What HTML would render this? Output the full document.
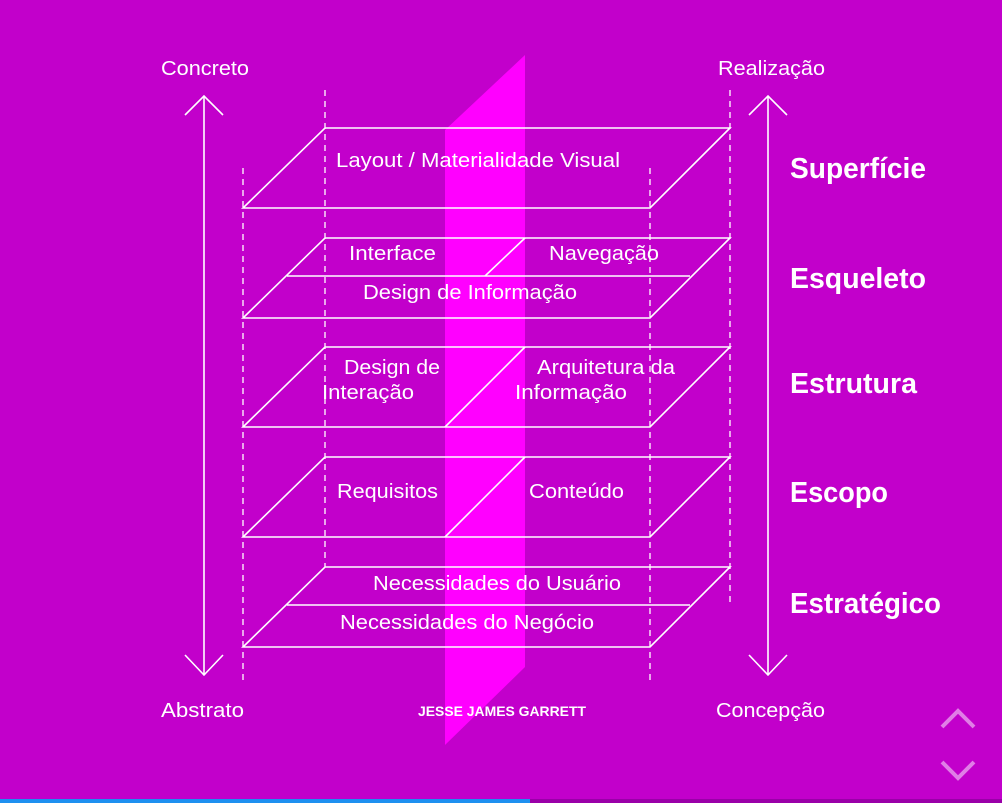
<!DOCTYPE html>
<html><head><style>
body{margin:0;width:1002px;height:803px;overflow:hidden;background:#C200CB;}
svg{display:block}
text{font-family:"Liberation Sans",sans-serif;fill:#fff}
</style></head><body>
<svg width="1002" height="803" viewBox="0 0 1002 803">
<rect width="1002" height="803" fill="#C200CB"/>
<polygon points="445,130 525,55 525,667 445,745" fill="#FF00FF"/>
<g stroke="#fff" stroke-width="1.6" fill="none">
<g stroke-dasharray="6,5" stroke-width="1.3">
<line x1="243" y1="168" x2="243" y2="685"/>
<line x1="325" y1="90" x2="325" y2="567"/>
<line x1="650" y1="168" x2="650" y2="685"/>
<line x1="730" y1="90" x2="730" y2="603"/>
</g>
<polygon points="325,128 730,128 650,208 243,208"/>
<polygon points="325,238 730,238 650,318 243,318"/>
<line x1="287" y1="276" x2="690" y2="276"/>
<line x1="525" y1="238" x2="485" y2="276"/>
<polygon points="325,347 730,347 650,427 243,427"/>
<line x1="525" y1="347" x2="445" y2="427"/>
<polygon points="325,457 730,457 650,537 243,537"/>
<line x1="525" y1="457" x2="445" y2="537"/>
<polygon points="325,567 730,567 650,647 243,647"/>
<line x1="287" y1="605" x2="690" y2="605"/>
<line x1="204" y1="96" x2="204" y2="675"/>
<polyline points="185,115 204,96 223,115"/>
<polyline points="185,655 204,675 223,655"/>
<line x1="768" y1="96" x2="768" y2="675"/>
<polyline points="749,115 768,96 787,115"/>
<polyline points="749,655 768,675 787,655"/>
</g>
<g font-size="20" lengthAdjust="spacingAndGlyphs">
<text x="161" y="75" textLength="88" lengthAdjust="spacingAndGlyphs">Concreto</text>
<text x="718" y="75" textLength="107" lengthAdjust="spacingAndGlyphs">Realização</text>
<text x="161" y="717" textLength="83" lengthAdjust="spacingAndGlyphs">Abstrato</text>
<text x="716" y="717" textLength="109" lengthAdjust="spacingAndGlyphs">Concepção</text>
<text x="336" y="167" textLength="284" lengthAdjust="spacingAndGlyphs">Layout / Materialidade Visual</text>
<text x="349" y="260" textLength="87" lengthAdjust="spacingAndGlyphs">Interface</text>
<text x="549" y="260" textLength="110" lengthAdjust="spacingAndGlyphs">Navegação</text>
<text x="363" y="299" textLength="214" lengthAdjust="spacingAndGlyphs">Design de Informação</text>
<text x="344" y="374" textLength="96" lengthAdjust="spacingAndGlyphs">Design de</text>
<text x="322" y="399" textLength="92" lengthAdjust="spacingAndGlyphs">Interação</text>
<text x="537" y="374" textLength="138" lengthAdjust="spacingAndGlyphs">Arquitetura da</text>
<text x="515" y="399" textLength="112" lengthAdjust="spacingAndGlyphs">Informação</text>
<text x="337" y="498" textLength="101" lengthAdjust="spacingAndGlyphs">Requisitos</text>
<text x="529" y="498" textLength="95" lengthAdjust="spacingAndGlyphs">Conteúdo</text>
<text x="373" y="590" textLength="248" lengthAdjust="spacingAndGlyphs">Necessidades do Usuário</text>
<text x="340" y="629" textLength="254" lengthAdjust="spacingAndGlyphs">Necessidades do Negócio</text>
</g>
<text x="418" y="716" font-size="14" font-weight="bold" textLength="168" lengthAdjust="spacingAndGlyphs">JESSE JAMES GARRETT</text>
<g font-size="29" font-weight="bold">
<text x="790" y="178" textLength="136" lengthAdjust="spacingAndGlyphs">Superfície</text>
<text x="790" y="288" textLength="136" lengthAdjust="spacingAndGlyphs">Esqueleto</text>
<text x="790" y="393" textLength="127" lengthAdjust="spacingAndGlyphs">Estrutura</text>
<text x="790" y="502" textLength="98" lengthAdjust="spacingAndGlyphs">Escopo</text>
<text x="790" y="613" textLength="151" lengthAdjust="spacingAndGlyphs">Estratégico</text>
</g>
<g stroke="#E07EE6" stroke-width="4" fill="none">
<polyline points="942,727 958,711 974,727"/>
<polyline points="942,762 958,778 974,762"/>
</g>
<rect x="0" y="799" width="1002" height="4" fill="#9A00A8"/>
<rect x="0" y="799" width="530" height="4" fill="#1E90F0"/>
</svg>
</body></html>
